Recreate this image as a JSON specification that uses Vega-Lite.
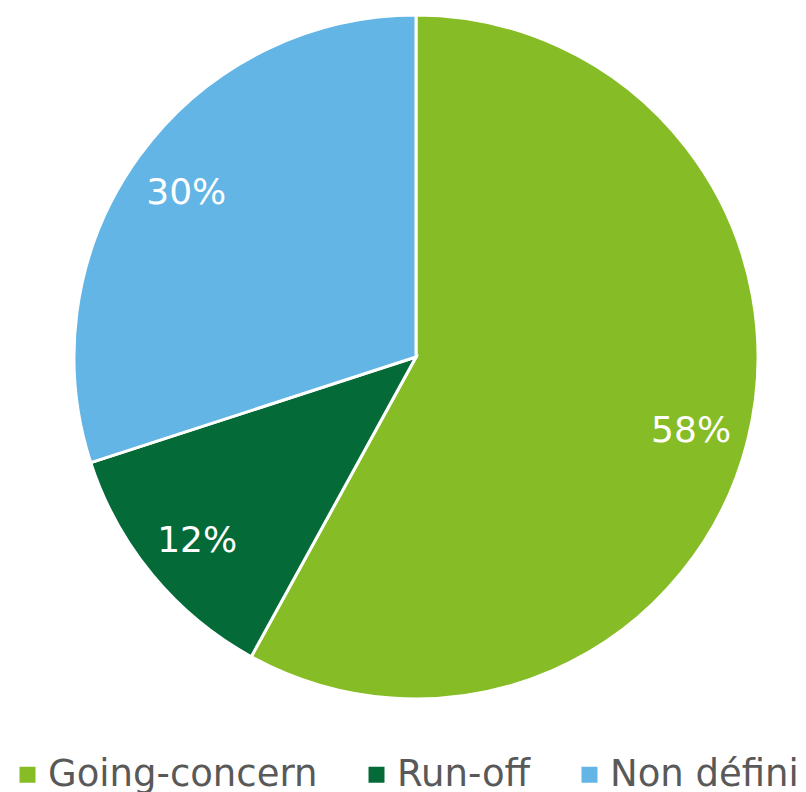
{
  "$schema": "https://vega.github.io/schema/vega-lite/v6.json",
  "width": 832,
  "height": 714,
  "autosize": "none",
  "padding": {"left": 0, "top": 0, "right": 0, "bottom": 78},
  "background": "white",
  "data": {
    "values": [
      {"category": "Going-concern", "value": 58, "label": "58%", "rank": 1},
      {"category": "Run-off", "value": 12, "label": "12%", "rank": 2},
      {"category": "Non défini", "value": 30, "label": "30%", "rank": 3}
    ]
  },
  "encoding": {
    "theta": {"field": "value", "type": "quantitative", "stack": true},
    "order": {"field": "rank", "type": "quantitative"}
  },
  "layer": [
    {
      "mark": {"type": "arc", "outerRadius": 342, "stroke": "white", "strokeWidth": 3},
      "encoding": {
        "color": {
          "field": "category",
          "type": "nominal",
          "sort": ["Going-concern", "Run-off", "Non défini"],
          "scale": {"domain": ["Going-concern", "Run-off", "Non défini"], "range": ["#86BC25", "#046A38", "#62B5E5"]},
          "legend": {
            "title": null,
            "orient": "none",
            "direction": "horizontal",
            "legendX": 9,
            "legendY": 756,
            "symbolType": "square",
            "symbolSize": 256,
            "symbolStrokeWidth": 0,
            "symbolOpacity": 1,
            "labelFont": "DejaVu Sans",
            "labelFontSize": 37,
            "labelColor": "#595959",
            "labelOffset": 2,
            "columnPadding": 40,
            "labelLimit": 400
          }
        }
      }
    },
    {
      "mark": {"type": "text", "radius": 284, "font": "DejaVu Sans", "fontSize": 36, "color": "white", "dy": 3},
      "encoding": {"text": {"field": "label", "type": "nominal"}}
    }
  ]
}
